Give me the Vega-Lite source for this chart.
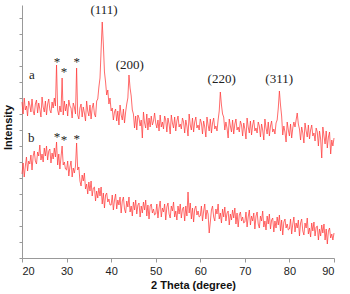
{
"$schema": "https://vega.github.io/schema/vega-lite/v6.json",
"width": 312, "height": 253,
"autosize": {"type": "none"},
"padding": {"left": 22, "top": 5, "right": 16, "bottom": 36},
"background": "white",
"config": {"view": {"stroke": null}},
"datasets": {
"xrd": [
{"t":20,"a":156,"b":84},{"t":20.25,"a":144,"b":95},{"t":20.5,"a":160,"b":81},{"t":20.75,"a":148,"b":92},{"t":21,"a":152,"b":101},{"t":21.25,"a":142,"b":87},{"t":21.5,"a":157,"b":97},{"t":21.75,"a":153,"b":94},{"t":22,"a":146,"b":103},{"t":22.25,"a":159,"b":88},{"t":22.5,"a":147,"b":102},{"t":22.75,"a":143,"b":107},{"t":23,"a":154,"b":97},{"t":23.25,"a":158,"b":94},{"t":23.5,"a":145,"b":106},{"t":23.75,"a":155,"b":102},{"t":24,"a":149,"b":113},{"t":24.25,"a":141,"b":98},{"t":24.5,"a":161,"b":104},{"t":24.75,"a":151,"b":96},{"t":25,"a":146,"b":110},{"t":25.25,"a":157,"b":102},{"t":25.5,"a":143,"b":112},{"t":25.75,"a":154,"b":98},{"t":26,"a":159,"b":107},{"t":26.25,"a":148,"b":109},{"t":26.5,"a":145,"b":95},{"t":26.75,"a":156,"b":105},{"t":27,"a":150,"b":99},{"t":27.25,"a":160,"b":110},{"t":27.5,"a":152,"b":101},{"t":27.75,"a":193,"b":116},{"t":28,"a":148,"b":93},{"t":28.25,"a":143,"b":104},{"t":28.5,"a":152,"b":89},{"t":28.75,"a":146,"b":101},{"t":29,"a":180,"b":112},{"t":29.25,"a":143,"b":93},{"t":29.5,"a":157,"b":96},{"t":29.75,"a":147,"b":89},
{"t":30,"a":154,"b":88},{"t":30.25,"a":142,"b":97},{"t":30.5,"a":158,"b":82},{"t":30.75,"a":152,"b":91},{"t":31,"a":150,"b":97},{"t":31.25,"a":140,"b":81},{"t":31.5,"a":155,"b":90},{"t":31.75,"a":151,"b":85},{"t":32,"a":144,"b":92},{"t":32.25,"a":190,"b":115},{"t":32.5,"a":143,"b":88},{"t":32.75,"a":139,"b":91},{"t":33,"a":150,"b":77},{"t":33.25,"a":154,"b":72},{"t":33.5,"a":141,"b":83},{"t":33.75,"a":151,"b":77},{"t":34,"a":145,"b":85},{"t":34.25,"a":137,"b":69},{"t":34.5,"a":157,"b":74},{"t":34.75,"a":147,"b":64},{"t":35,"a":142,"b":76},{"t":35.25,"a":153,"b":67},{"t":35.5,"a":139,"b":77},{"t":35.75,"a":150,"b":62},{"t":36,"a":155,"b":70},{"t":36.25,"a":144,"b":71},{"t":36.5,"a":141,"b":57},{"t":36.75,"a":157,"b":67},{"t":37,"a":159,"b":60},{"t":37.25,"a":171,"b":70},{"t":37.5,"a":180,"b":62},{"t":37.75,"a":208,"b":71},{"t":38,"a":236,"b":54},{"t":38.25,"a":214,"b":65},{"t":38.5,"a":186,"b":50},{"t":38.75,"a":176,"b":63},{"t":39,"a":163,"b":65},{"t":39.25,"a":168,"b":56},{"t":39.5,"a":154,"b":59},{"t":39.75,"a":160,"b":53},
{"t":40,"a":147,"b":53},{"t":40.25,"a":150,"b":63},{"t":40.5,"a":138,"b":48},{"t":40.75,"a":146,"b":58},{"t":41,"a":149,"b":64},{"t":41.25,"a":137,"b":49},{"t":41.5,"a":147,"b":58},{"t":41.75,"a":133,"b":53},{"t":42,"a":153,"b":61},{"t":42.25,"a":143,"b":45},{"t":42.5,"a":138,"b":57},{"t":42.75,"a":149,"b":61},{"t":43,"a":135,"b":49},{"t":43.25,"a":146,"b":45},{"t":43.5,"a":154,"b":57},{"t":43.75,"a":160,"b":51},{"t":44,"a":183,"b":61},{"t":44.25,"a":170,"b":46},{"t":44.5,"a":162,"b":52},{"t":44.75,"a":148,"b":42},{"t":45,"a":144,"b":56},{"t":45.25,"a":130,"b":48},{"t":45.5,"a":142,"b":58},{"t":45.75,"a":128,"b":44},{"t":46,"a":143,"b":53},{"t":46.25,"a":140,"b":55},{"t":46.5,"a":132,"b":41},{"t":46.75,"a":138,"b":52},{"t":47,"a":120,"b":45},{"t":47.25,"a":146,"b":56},{"t":47.5,"a":135,"b":48},{"t":47.75,"a":130,"b":58},{"t":48,"a":144,"b":42},{"t":48.25,"a":128,"b":53},{"t":48.5,"a":140,"b":39},{"t":48.75,"a":131,"b":52},{"t":49,"a":142,"b":54},{"t":49.25,"a":133,"b":45},{"t":49.5,"a":137,"b":49},{"t":49.75,"a":145,"b":43},
{"t":50,"a":135,"b":44},{"t":50.25,"a":130,"b":54},{"t":50.5,"a":138,"b":40},{"t":50.75,"a":127,"b":50},{"t":51,"a":143,"b":57},{"t":51.25,"a":131,"b":41},{"t":51.5,"a":136,"b":50},{"t":51.75,"a":129,"b":46},{"t":52,"a":142,"b":54},{"t":52.25,"a":138,"b":38},{"t":52.5,"a":126,"b":51},{"t":52.75,"a":140,"b":55},{"t":53,"a":134,"b":44},{"t":53.25,"a":124,"b":40},{"t":53.5,"a":143,"b":52},{"t":53.75,"a":135,"b":47},{"t":54,"a":130,"b":56},{"t":54.25,"a":141,"b":41},{"t":54.5,"a":127,"b":47},{"t":54.75,"a":137,"b":38},{"t":55,"a":142,"b":52},{"t":55.25,"a":131,"b":44},{"t":55.5,"a":134,"b":54},{"t":55.75,"a":129,"b":40},{"t":56,"a":140,"b":49},{"t":56.25,"a":136,"b":51},{"t":56.5,"a":125,"b":37},{"t":56.75,"a":138,"b":52},{"t":57,"a":132,"b":42},{"t":57.25,"a":122,"b":66},{"t":57.5,"a":144,"b":45},{"t":57.75,"a":133,"b":55},{"t":58,"a":128,"b":39},{"t":58.25,"a":140,"b":50},{"t":58.5,"a":126,"b":36},{"t":58.75,"a":136,"b":49},{"t":59,"a":141,"b":52},{"t":59.25,"a":130,"b":43},{"t":59.5,"a":133,"b":47},{"t":59.75,"a":128,"b":41},
{"t":60,"a":139,"b":42},{"t":60.25,"a":135,"b":52},{"t":60.5,"a":124,"b":37},{"t":60.75,"a":137,"b":47},{"t":61,"a":131,"b":54},{"t":61.25,"a":121,"b":39},{"t":61.5,"a":141,"b":48},{"t":61.75,"a":133,"b":44},{"t":62,"a":127,"b":25},{"t":62.25,"a":139,"b":36},{"t":62.5,"a":125,"b":48},{"t":62.75,"a":135,"b":52},{"t":63,"a":140,"b":41},{"t":63.25,"a":129,"b":37},{"t":63.5,"a":132,"b":49},{"t":63.75,"a":127,"b":44},{"t":64,"a":138,"b":54},{"t":64.25,"a":147,"b":39},{"t":64.5,"a":166,"b":45},{"t":64.75,"a":153,"b":35},{"t":65,"a":144,"b":49},{"t":65.25,"a":141,"b":41},{"t":65.5,"a":128,"b":51},{"t":65.75,"a":136,"b":37},{"t":66,"a":130,"b":45},{"t":66.25,"a":120,"b":47},{"t":66.5,"a":139,"b":33},{"t":66.75,"a":132,"b":44},{"t":67,"a":126,"b":38},{"t":67.25,"a":138,"b":48},{"t":67.5,"a":124,"b":40},{"t":67.75,"a":134,"b":50},{"t":68,"a":139,"b":34},{"t":68.25,"a":128,"b":45},{"t":68.5,"a":131,"b":31},{"t":68.75,"a":126,"b":43},{"t":69,"a":137,"b":46},{"t":69.25,"a":133,"b":37},{"t":69.5,"a":122,"b":41},{"t":69.75,"a":135,"b":35},
{"t":70,"a":129,"b":36},{"t":70.25,"a":119,"b":46},{"t":70.5,"a":140,"b":31},{"t":70.75,"a":131,"b":41},{"t":71,"a":125,"b":48},{"t":71.25,"a":137,"b":33},{"t":71.5,"a":123,"b":42},{"t":71.75,"a":133,"b":37},{"t":72,"a":138,"b":45},{"t":72.25,"a":127,"b":29},{"t":72.5,"a":130,"b":42},{"t":72.75,"a":125,"b":46},{"t":73,"a":136,"b":34},{"t":73.25,"a":132,"b":30},{"t":73.5,"a":121,"b":42},{"t":73.75,"a":134,"b":37},{"t":74,"a":128,"b":47},{"t":74.25,"a":118,"b":31},{"t":74.5,"a":139,"b":37},{"t":74.75,"a":130,"b":28},{"t":75,"a":124,"b":42},{"t":75.25,"a":136,"b":34},{"t":75.5,"a":122,"b":44},{"t":75.75,"a":132,"b":29},{"t":76,"a":137,"b":38},{"t":76.25,"a":126,"b":40},{"t":76.5,"a":129,"b":26},{"t":76.75,"a":124,"b":37},{"t":77,"a":135,"b":30},{"t":77.25,"a":138,"b":41},{"t":77.5,"a":150,"b":33},{"t":77.75,"a":167,"b":43},{"t":78,"a":153,"b":27},{"t":78.25,"a":142,"b":38},{"t":78.5,"a":123,"b":23},{"t":78.75,"a":132,"b":36},{"t":79,"a":126,"b":39},{"t":79.25,"a":116,"b":30},{"t":79.5,"a":136,"b":34},{"t":79.75,"a":128,"b":28},
{"t":80,"a":122,"b":29},{"t":80.25,"a":134,"b":39},{"t":80.5,"a":120,"b":24},{"t":80.75,"a":130,"b":34},{"t":81,"a":136,"b":41},{"t":81.25,"a":131,"b":26},{"t":81.5,"a":138,"b":35},{"t":81.75,"a":145,"b":30},{"t":82,"a":134,"b":38},{"t":82.25,"a":129,"b":22},{"t":82.5,"a":118,"b":35},{"t":82.75,"a":131,"b":39},{"t":83,"a":125,"b":27},{"t":83.25,"a":115,"b":23},{"t":83.5,"a":135,"b":35},{"t":83.75,"a":127,"b":30},{"t":84,"a":121,"b":40},{"t":84.25,"a":133,"b":24},{"t":84.5,"a":119,"b":30},{"t":84.75,"a":128,"b":21},{"t":85,"a":133,"b":35},{"t":85.25,"a":122,"b":27},{"t":85.5,"a":125,"b":36},{"t":85.75,"a":117,"b":22},{"t":86,"a":130,"b":31},{"t":86.25,"a":126,"b":32},{"t":86.5,"a":112,"b":18},{"t":86.75,"a":127,"b":29},{"t":87,"a":119,"b":22},{"t":87.25,"a":100,"b":33},{"t":87.5,"a":131,"b":25},{"t":87.75,"a":122,"b":34},{"t":88,"a":114,"b":18},{"t":88.25,"a":127,"b":29},{"t":88.5,"a":110,"b":14},{"t":88.75,"a":121,"b":27},{"t":89,"a":126,"b":30},{"t":89.25,"a":104,"b":20},{"t":89.5,"a":118,"b":24},{"t":89.75,"a":112,"b":18},{"t":90,"a":120,"b":25}
],
"notes": [
{"t":38.4,"I":248,"label":"(111)"},
{"t":44.2,"I":193,"label":"(200)"},
{"t":64.8,"I":179,"label":"(220)"},
{"t":77.7,"I":179,"label":"(311)"},
{"t":22.2,"I":183,"label":"a"},
{"t":22.1,"I":120,"label":"b"},
{"t":27.85,"I":196,"label":"*"},
{"t":29.4,"I":186,"label":"*"},
{"t":32.3,"I":196,"label":"*"},
{"t":27.85,"I":121,"label":"*"},
{"t":29.4,"I":118,"label":"*"},
{"t":32.3,"I":119,"label":"*"}
]
},
"encoding": {
"x": {"field": "t", "type": "quantitative", "scale": {"domain": [20, 90], "nice": false},
 "axis": {"title": "2 Theta (degree)", "values": [20,30,40,50,60,70,80,90], "grid": false,
  "domainColor": "#999", "tickColor": "#999", "tickSize": 4, "labelPadding": 3,
  "labelFont": "Liberation Sans", "labelFontSize": 11, "labelColor": "#222",
  "titleFont": "Liberation Sans", "titleFontSize": 11, "titleFontWeight": "bold", "titleColor": "#111",
  "titleX": 171, "titleY": 21, "titleBaseline": "top"}},
"y": {"field": "I", "type": "quantitative", "scale": {"domain": [0, 253], "nice": false},
 "axis": {"title": "Intensity", "labels": false, "values": [0,16,32,48,64,80,96,112,128,144,160,176,192,208,224,240], "grid": false,
  "domainColor": "#999", "tickColor": "#999", "tickSize": 3,
  "titleFont": "Liberation Sans", "titleFontSize": 11, "titleFontWeight": "bold", "titleColor": "#111",
  "titleX": -9, "titleY": 122, "titleAngle": -90, "titleBaseline": "bottom", "titleAlign": "center"}}
},
"layer": [
{"data": {"name": "xrd"}, "transform": [{"fold": ["a", "b"], "as": ["series", "I"]}],
 "mark": {"type": "line", "color": "#ff3b3b", "strokeWidth": 0.8, "opacity": 0.95},
 "encoding": {"detail": {"field": "series"}}},
{"data": {"name": "notes"},
 "mark": {"type": "text", "font": "Liberation Serif", "fontSize": 13, "color": "#222", "baseline": "middle", "align": "center"},
 "encoding": {"text": {"field": "label"}}}
]
}
